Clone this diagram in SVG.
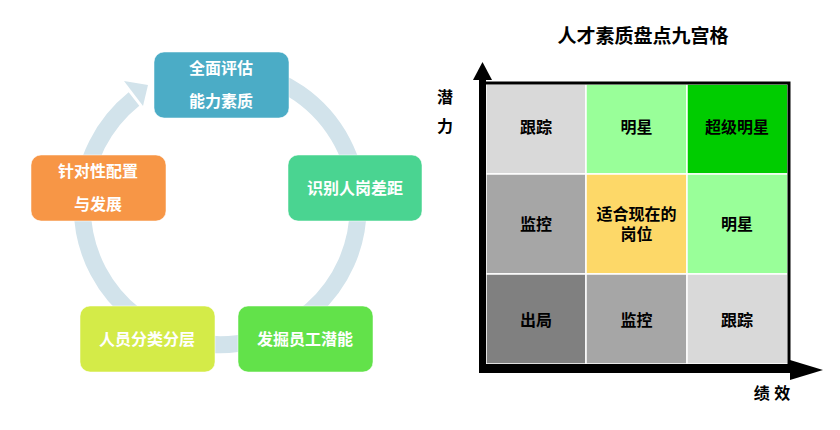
<svg xmlns="http://www.w3.org/2000/svg" width="840" height="430" viewBox="0 0 840 430">
<style>
text{font-family:"Liberation Sans","Noto Sans CJK SC",sans-serif;text-anchor:middle;dominant-baseline:central}
.bt{fill:#fff;font-size:16px;font-weight:bold}
.ct{fill:#000;font-size:16px;font-weight:bold}
.box{stroke:#fff;stroke-opacity:.5;stroke-width:1}
.cell{stroke:#fff;stroke-width:1.5}
</style>
<rect width="840" height="430" fill="#fff"/>
<g id="cycle">
<path d="M245,71 A138,138 0 1 1 134,99" fill="none" stroke="#D2E3EB" stroke-width="17"/>
<polygon points="124,81 148,85 143,106" fill="#D2E3EB"/>
</g>
<g id="n-top"><rect class="box" x="154" y="52" width="135" height="66" rx="10" fill="#4BACC6"/>
<text class="bt" x="221" y="68">全面评估</text><text class="bt" x="221" y="101">能力素质</text></g>
<g id="n-right"><rect class="box" x="288" y="155" width="134" height="66" rx="10" fill="#4AD491"/>
<text class="bt" x="355" y="188">识别人岗差距</text></g>
<g id="n-br"><rect class="box" x="238" y="306" width="135" height="66" rx="10" fill="#62E24A"/>
<text class="bt" x="305" y="339">发掘员工潜能</text></g>
<g id="n-bl"><rect class="box" x="80" y="306" width="135" height="66" rx="10" fill="#D4EB48"/>
<text class="bt" x="147" y="339">人员分类分层</text></g>
<g id="n-left"><rect class="box" x="31" y="155" width="135" height="66" rx="10" fill="#F79646"/>
<text class="bt" x="98" y="171">针对性配置</text><text class="bt" x="98" y="204">与发展</text></g>

<text x="643" y="36" style="font-size:19px;font-weight:bold;fill:#000">人才素质盘点九宫格</text>

<g id="grid">
<rect class="cell" x="486" y="84" width="100" height="90" fill="#D9D9D9"/>
<rect class="cell" x="586" y="84" width="101" height="90" fill="#99FF99"/>
<rect class="cell" x="687" y="84" width="101" height="90" fill="#00CC00"/>
<rect class="cell" x="486" y="174" width="100" height="100" fill="#A6A6A6"/>
<rect class="cell" x="586" y="174" width="101" height="100" fill="#FDD868"/>
<rect class="cell" x="687" y="174" width="101" height="100" fill="#99FF99"/>
<rect class="cell" x="486" y="274" width="100" height="90" fill="#808080"/>
<rect class="cell" x="586" y="274" width="101" height="90" fill="#A6A6A6"/>
<rect class="cell" x="687" y="274" width="101" height="90" fill="#D9D9D9"/>
<rect x="484" y="83" width="305" height="283" fill="none" stroke="#000" stroke-width="3"/>
<text class="ct" x="536" y="127">跟踪</text>
<text class="ct" x="636.5" y="127">明星</text>
<text class="ct" x="737" y="127">超级明星</text>
<text class="ct" x="536" y="224">监控</text>
<text class="ct" x="636.5" y="214">适合现在的</text>
<text class="ct" x="636.5" y="234">岗位</text>
<text class="ct" x="737" y="224">明星</text>
<text class="ct" x="536" y="320">出局</text>
<text class="ct" x="636.5" y="320">监控</text>
<text class="ct" x="737" y="320">跟踪</text>
</g>
<g id="axes">
<rect x="479" y="79" width="7" height="294" fill="#000"/>
<polygon points="482.5,62 473,80 492,80" fill="#000"/>
<rect x="479" y="364" width="312" height="9" fill="#000"/>
<polygon points="823,370 790,360 790,380" fill="#000"/>
<text class="ct" x="445" y="97">潜</text>
<text class="ct" x="445" y="126">力</text>
<text class="ct" x="772" y="393">绩 效</text>
</g>
</svg>
